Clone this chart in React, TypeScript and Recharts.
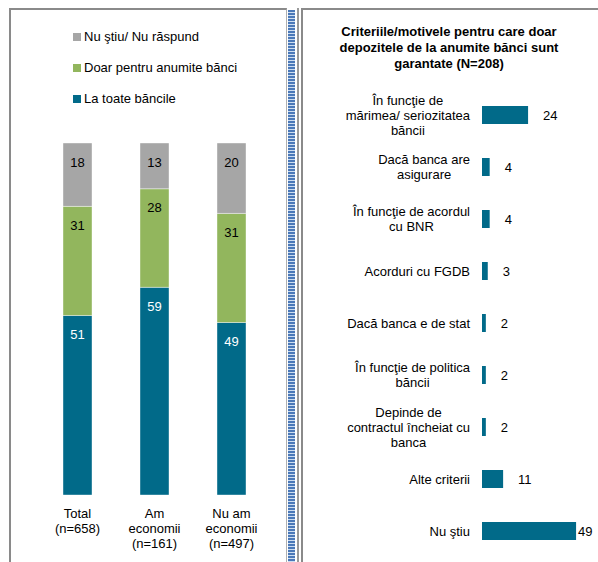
import React from 'react'
import { Bar, BarChart, LabelList, Legend, XAxis, YAxis } from 'recharts'

// left: stacked shares per group (%)
const groups = ['Total\n(n=658)', 'Am\neconomii\n(n=161)', 'Nu am\neconomii\n(n=497)']
const laToate = [51, 59, 49]
const doarAnumite = [31, 28, 31]
const nuStiu = [18, 13, 20]

// right: criteria, base N=208
const criterii = [
  'În funcţie de\nmărimea/ seriozitatea\nbăncii',
  'Dacă banca are\nasigurare',
  'În funcţie de acordul\ncu BNR',
  'Acorduri cu FGDB',
  'Dacă banca e de stat',
  'În funcţie de politica\nbăncii',
  'Depinde de\ncontractul încheiat cu\nbanca',
  'Alte criterii',
  'Nu ştiu',
]
const criteriiValori = [24, 4, 4, 3, 2, 2, 2, 11, 49]

const FONT = '"Liberation Sans", Arial, sans-serif'
const BLUE = '#016a89'
const GREEN = '#92b65d'
const GRAY = '#a6a6a6'

const stackData = groups.map((g, i) => ({
  group: g,
  toate: laToate[i],
  doar: doarAnumite[i],
  nu: nuStiu[i],
}))
const criteriiData = criterii.map((c, i) => ({ name: c, value: criteriiValori[i] }))

// legend lists the top segment first
const legendOrder = ['nu', 'doar', 'toate']

let ctx: CanvasRenderingContext2D | null = null
function textWidth(s: string, font: string) {
  if (!ctx) ctx = document.createElement('canvas').getContext('2d')
  if (!ctx) return s.length * 6.5
  ctx.font = font
  return ctx.measureText(s).width
}

function GroupTick({ x, y, payload }: any) {
  const lines = String(payload.value).split('\n')
  return (
    <text x={x} y={y} textAnchor="middle" fontSize={13} fontFamily={FONT} fill="#000">
      {lines.map((l, i) => (
        <tspan key={i} x={x} dy={i === 0 ? 21 : 15}>
          {l}
        </tspan>
      ))}
    </text>
  )
}

// multi-line labels are centred within a right-aligned block, like Excel does
function CriteriuTick({ x, y, payload }: any) {
  const lines = String(payload.value).split('\n')
  const w = Math.max(...lines.map((l) => textWidth(l, `13px ${FONT}`)))
  const cx = x - w / 2
  const top = y - ((lines.length - 1) * 15) / 2
  return (
    <text x={cx} y={top} textAnchor="middle" fontSize={13} fontFamily={FONT} fill="#000">
      {lines.map((l, i) => (
        <tspan key={i} x={cx} dy={i === 0 ? '0.35em' : 15}>
          {l}
        </tspan>
      ))}
    </text>
  )
}

const segLabel = (color: string) => (p: any) => (
  <text
    x={p.x + p.width / 2}
    y={p.y + 19}
    textAnchor="middle"
    dominantBaseline="central"
    fontSize={13}
    fontFamily={FONT}
    fill={color}
  >
    {p.value}
  </text>
)

const valueLabel = (p: any) => (
  <text
    x={Math.min(p.x + p.width + 15, 278)}
    y={p.y + p.height / 2}
    dominantBaseline="central"
    fontSize={13}
    fontFamily={FONT}
    fill="#000"
  >
    {p.value}
  </text>
)

function StackLegend({ payload }: any) {
  const items = legendOrder
    .map((k) => (payload || []).find((it: any) => it.dataKey === k))
    .filter(Boolean)
  return (
    <div style={{ fontFamily: FONT, fontSize: 13 }}>
      {items.map((it: any) => (
        <div key={it.value} style={{ height: 31, display: 'flex', alignItems: 'center' }}>
          <span style={{ width: 8, height: 8, background: it.color, marginRight: 3, display: 'inline-block' }} />
          {it.value}
        </div>
      ))}
    </div>
  )
}

export default function App() {
  return (
    <div style={{ position: 'absolute', left: 0, top: 0, width: 598, height: 562, overflow: 'hidden', background: '#fff' }}>
      {/* frames */}
      <div style={{ position: 'absolute', left: 9, top: 8, width: 275, height: 600, borderLeft: '2px solid #8a8a8a', borderTop: '2px solid #8a8a8a', borderRight: '1px solid #b0b0b0' }} />
      <div style={{ position: 'absolute', left: 288, top: 10, width: 7, height: 560, background: 'repeating-linear-gradient(to bottom, #4a78b8 0 2px, #cdddf0 2px 3px)' }} />
      <div style={{ position: 'absolute', left: 297, top: 8, width: 2, height: 560, background: '#9a9a9a' }} />
      <div style={{ position: 'absolute', left: 301, top: 8, width: 300, height: 600, borderLeft: '2px solid #8a8a8a', borderTop: '2px solid #8a8a8a' }} />

      <div style={{ position: 'absolute', left: 0, top: 0 }}>
        <BarChart width={290} height={562} data={stackData} margin={{ top: 143, right: 20, bottom: 0, left: 39 }}>
          <XAxis dataKey="group" axisLine={false} tickLine={false} tickSize={0} height={67} interval={0} tick={<GroupTick />} />
          <YAxis hide domain={[0, 100]} />
          <Legend
            layout="vertical"
            align="center"
            verticalAlign="middle"
            wrapperStyle={{ top: 21, left: 73, width: 200 }}
            content={<StackLegend />}
          />
          <Bar dataKey="toate" name="La toate băncile" stackId="s" fill={BLUE} barSize={29} stroke="#fff" strokeOpacity={0.4} isAnimationActive={false}>
            <LabelList dataKey="toate" content={segLabel('#fff')} />
          </Bar>
          <Bar dataKey="doar" name="Doar pentru anumite bănci" stackId="s" fill={GREEN} barSize={29} stroke="#fff" strokeOpacity={0.4} isAnimationActive={false}>
            <LabelList dataKey="doar" content={segLabel('#000')} />
          </Bar>
          <Bar dataKey="nu" name="Nu ştiu/ Nu răspund" stackId="s" fill={GRAY} barSize={29} stroke="#fff" strokeOpacity={0.4} isAnimationActive={false}>
            <LabelList dataKey="nu" content={segLabel('#000')} />
          </Bar>
        </BarChart>
      </div>

      <div
        style={{
          position: 'absolute',
          left: 300,
          top: 24,
          width: 298,
          textAlign: 'center',
          fontFamily: FONT,
          fontSize: 13,
          fontWeight: 'bold',
          lineHeight: '16px',
        }}
      >
        Criteriile/motivele pentru care doar
        <br />
        depozitele de la anumite bănci sunt
        <br />
        garantate (N=208)
      </div>

      <div style={{ position: 'absolute', left: 300, top: 0 }}>
        <BarChart layout="vertical" width={298} height={562} data={criteriiData} margin={{ top: 89, right: 20, bottom: 5, left: 0 }}>
          <XAxis type="number" hide domain={[0, 50]} />
          <YAxis
            type="category"
            dataKey="name"
            width={182}
            axisLine={false}
            tickLine={false}
            tickSize={0}
            tickMargin={12}
            interval={0}
            tick={<CriteriuTick />}
          />
          <Bar dataKey="value" fill={BLUE} barSize={18} isAnimationActive={false}>
            <LabelList dataKey="value" content={valueLabel} />
          </Bar>
        </BarChart>
      </div>
    </div>
  )
}
